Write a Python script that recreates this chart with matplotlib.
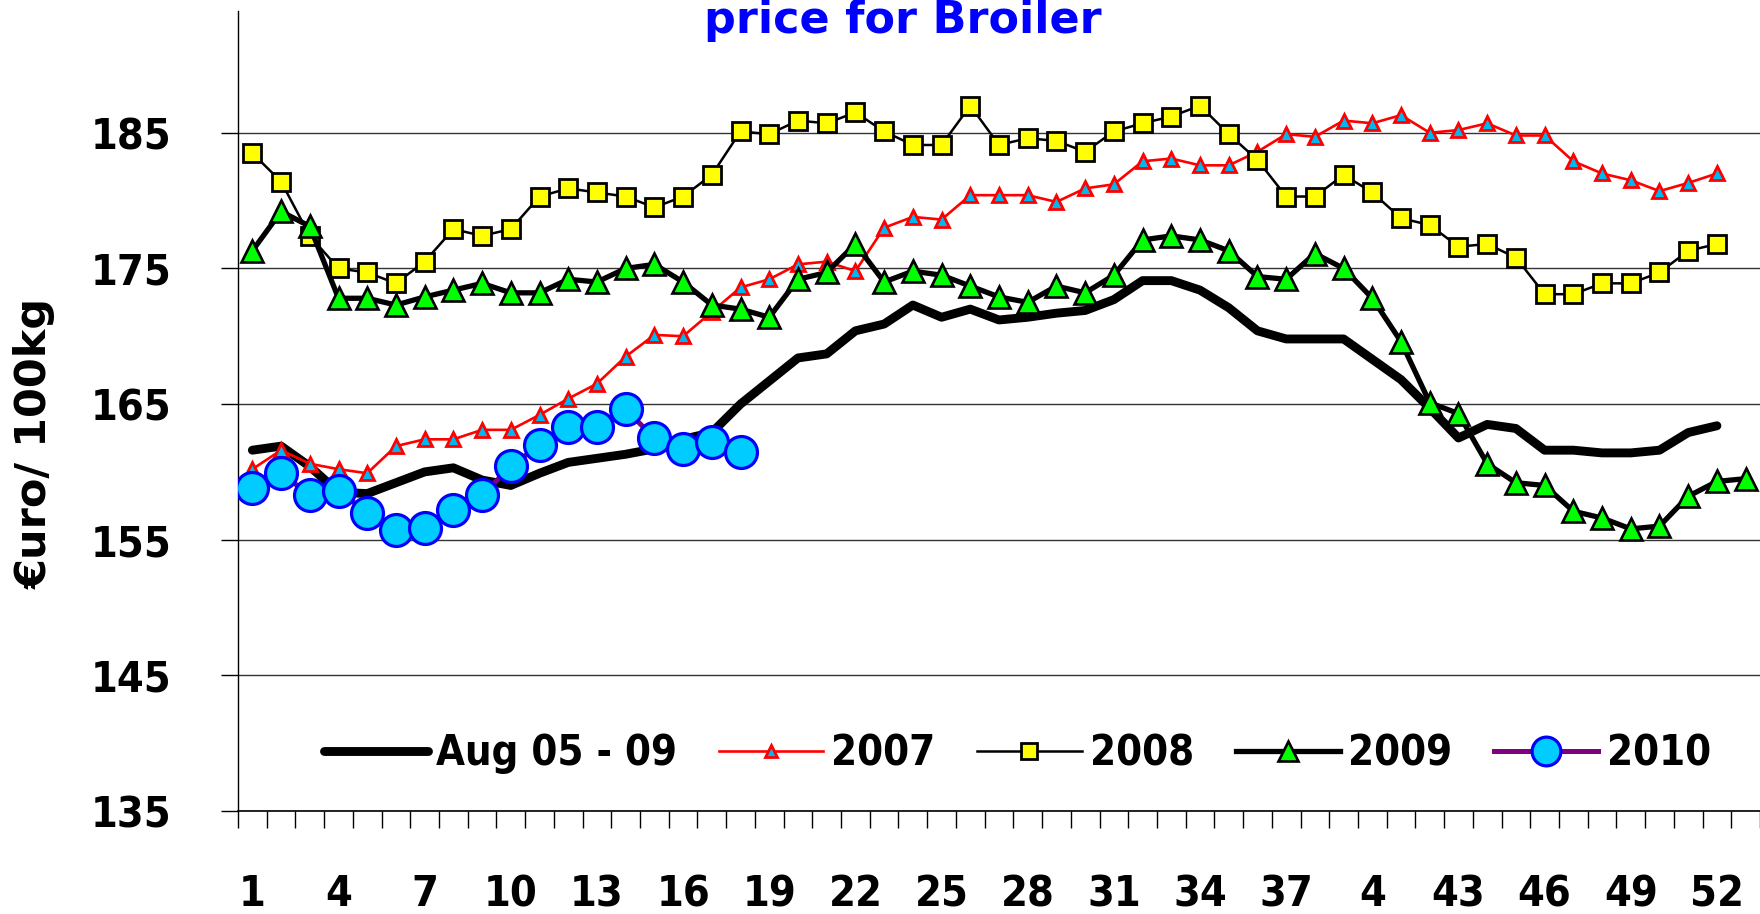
import os
import numpy as np
import matplotlib
matplotlib.use('Agg')
import matplotlib.pyplot as plt
from matplotlib import font_manager as fm
from matplotlib.font_manager import FontProperties

# ---------------- data ----------------
weeks = list(range(1, 53))
weeks_2009 = list(range(1, 54))
weeks_2010 = list(range(1, 19))

avg_05_09 = [161.6, 161.9, 160.4, 158.5, 158.4, 159.2, 160.0, 160.3, 159.4, 159.0,
             159.9, 160.7, 161.0, 161.3, 161.7, 162.4, 162.9, 165.0, 166.7, 168.4,
             168.7, 170.4, 170.9, 172.3, 171.4, 172.0, 171.2, 171.4, 171.7, 171.9,
             172.7, 174.1, 174.1, 173.4, 172.1, 170.4, 169.8, 169.8, 169.8, 168.3,
             166.8, 164.7, 162.5, 163.5, 163.2, 161.6, 161.6, 161.4, 161.4, 161.6,
             162.9, 163.4]

y2007 = [160.2, 161.6, 160.6, 160.2, 159.9, 161.9, 162.4, 162.4, 163.1, 163.1,
         164.2, 165.4, 166.5, 168.5, 170.1, 170.0, 171.8, 173.6, 174.2, 175.3,
         175.5, 174.8, 178.0, 178.8, 178.6, 180.4, 180.4, 180.4, 179.9, 180.9,
         181.2, 182.9, 183.1, 182.6, 182.6, 183.6, 184.9, 184.7, 185.9, 185.7,
         186.3, 185.0, 185.2, 185.7, 184.8, 184.8, 182.9, 182.0, 181.5, 180.7,
         181.3, 182.0]

y2008 = [183.5, 181.4, 177.4, 175.0, 174.7, 173.9, 175.5, 177.9, 177.4, 177.9,
         180.3, 180.9, 180.6, 180.3, 179.5, 180.3, 181.9, 185.1, 184.9, 185.9,
         185.7, 186.5, 185.1, 184.1, 184.1, 187.0, 184.1, 184.6, 184.4, 183.6,
         185.1, 185.7, 186.2, 187.0, 184.9, 183.0, 180.3, 180.3, 181.9, 180.6,
         178.7, 178.2, 176.6, 176.8, 175.8, 173.1, 173.1, 173.9, 173.9, 174.7,
         176.3, 176.8]

y2009 = [176.3, 179.2, 178.1, 172.8, 172.8, 172.3, 172.9, 173.4, 173.9, 173.2,
         173.2, 174.2, 174.0, 175.0, 175.3, 174.0, 172.3, 172.0, 171.4, 174.2,
         174.7, 176.8, 174.0, 174.8, 174.5, 173.7, 172.9, 172.5, 173.7, 173.2,
         174.5, 177.1, 177.4, 177.1, 176.3, 174.4, 174.2, 176.1, 175.0, 172.8,
         169.6, 165.1, 164.3, 160.6, 159.2, 159.0, 157.1, 156.6, 155.8, 156.0,
         158.2, 159.3, 159.5]

y2010 = [158.8, 159.9, 158.3, 158.6, 157.0, 155.7, 155.9, 157.2, 158.3, 160.4,
         162.0, 163.3, 163.3, 164.6, 162.5, 161.7, 162.2, 161.5]

xtick_pos = [1, 4, 7, 10, 13, 16, 19, 22, 25, 28, 31, 34, 37, 40, 43, 46, 49, 52]
xtick_labels = ['1', '4', '7', '10', '13', '16', '19', '22', '25', '28', '31',
                '34', '37', '4', '43', '46', '49', '52']
ytick_vals = [135, 145, 155, 165, 175, 185]

series_names = ['Aug 05 - 09', '2007', '2008', '2009', '2010']
title_text = 'price for Broiler'
ylabel_text = '€uro/ 100kg'

# ---------------- fonts ----------------
def find_cond_font():
    files = {os.path.basename(f.fname).lower(): f.fname for f in fm.fontManager.ttflist}
    for w in ['dejavusanscondensed-bold.ttf', 'liberationsansnarrow-bold.ttf']:
        if w in files:
            return files[w]
    return None

cf = find_cond_font()
if cf:
    tick_fp = FontProperties(fname=cf, size=31)
    leg_fp = FontProperties(fname=cf, size=30)
else:
    tick_fp = FontProperties(family='DejaVu Sans', weight='bold', size=26)
    leg_fp = FontProperties(family='DejaVu Sans', weight='bold', size=25)

# ---------------- figure ----------------
W, H = 1760, 914
fig = plt.figure(figsize=(W / 100, H / 100), dpi=100)
ax = fig.add_axes([238 / W, 1 - 811 / H, 1 - 238 / W, (811 - 10.7) / H])
ax.set_xlim(0.5, 53.45)
ax.set_ylim(135, 194)

ax.plot(weeks, avg_05_09, color='black', lw=6.4, solid_capstyle='round',
        solid_joinstyle='round', zorder=2, label=series_names[0])
ax.plot(weeks, y2007, color='#FF0000', lw=1.9, marker='^', ms=10,
        mfc='#00B8F0', mec='#FF0000', mew=2.0, zorder=3, label=series_names[1])
ax.plot(weeks, y2008, color='black', lw=1.8, marker='s', ms=13.5,
        mfc='#FFFF00', mec='black', mew=2.0, zorder=4, label=series_names[2])
ax.plot(weeks_2009, y2009, color='black', lw=3.8, marker='^', ms=16.5,
        mfc='#00FF00', mec='black', mew=1.9, zorder=5, label=series_names[3])
ax.plot(weeks_2010, y2010, color='#800080', lw=3.6, marker='o', ms=23,
        mfc='#00CCFF', mec='#0000FF', mew=2.3, zorder=6, label=series_names[4])

# axes styling
for s in ['top', 'right']:
    ax.spines[s].set_visible(False)
ax.spines['left'].set_linewidth(1.0)
ax.spines['bottom'].set_linewidth(1.2)

ax.set_yticks(ytick_vals)
ax.set_yticklabels([str(v) for v in ytick_vals])
for lab in ax.get_yticklabels():
    lab.set_fontproperties(tick_fp)
ax.tick_params(axis='y', length=12, width=1, direction='out', pad=36)
ax.yaxis.grid(True, color='#333333', lw=1.0)
ax.set_axisbelow(True)

ax.set_xticks(xtick_pos)
ax.set_xticklabels(xtick_labels)
for lab in ax.get_xticklabels():
    lab.set_fontproperties(tick_fp)
ax.set_xticks(np.arange(0.5, 54.0, 1.0), minor=True)
ax.tick_params(axis='x', which='major', length=0, pad=45)
ax.tick_params(axis='x', which='minor', length=12, width=1, direction='out')

leg = ax.legend(loc='center', bbox_to_anchor=(0.578, 0.176),
                bbox_transform=fig.transFigure, ncol=5, frameon=False,
                prop=leg_fp, handlelength=2.5, handletextpad=0.2,
                columnspacing=1.0, numpoints=1, markerscale=0.9)

fig.text(0.513, 1 - 33 / H, title_text, ha='center', va='baseline',
         color='#0000FF', fontsize=32, fontweight='bold')
fig.text(35 / W, 1 - 443 / H, ylabel_text, rotation=90, ha='center',
         va='center', fontsize=31, fontweight='bold')

fig.savefig('out.png', dpi=100)
